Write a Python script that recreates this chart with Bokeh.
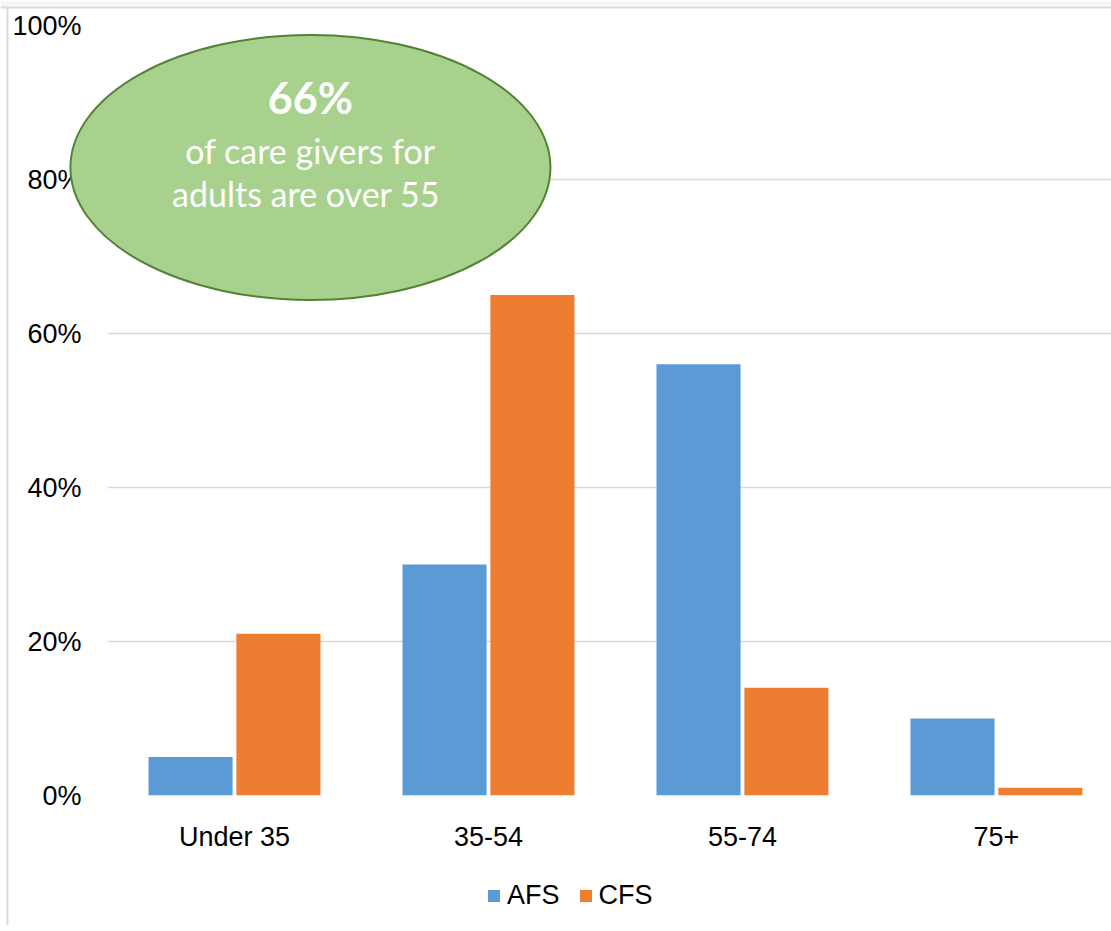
from bokeh.plotting import figure
from bokeh.models import (Range1d, FixedTicker, Legend, LegendItem, ColumnDataSource)
from bokeh.transform import dodge
from bokeh.layouts import column
from bokeh.core.properties import value
from bokeh.embed import file_html
from bokeh.resources import INLINE

# Age groups of carers and share of each survey in each group (%)
categories = ["Under 35", "35-54", "55-74", "75+"]
afs = [5, 30, 56, 10]
cfs = [21, 65, 14, 1]
y_ticks = [0, 20, 40, 60, 80, 100]

callout_value = "66%"
callout_lines = ["of care givers for", "adults are  over 55"]

AFS_COLOR = "#5b9bd5"
CFS_COLOR = "#ed7d31"
GRID = "#d9d9d9"
FONT = "Liberation Sans"

W, H = 1111, 925
LEFT, TOP, BOTTOM = 107, 25, 130          # frame margins in px
X_END = 3.953                             # visible category span
PX_X = (W - LEFT) / X_END                 # px per category unit
PX_Y = (H - TOP - BOTTOM) / 100.0         # px per percent

pos = [i + 0.5 for i in range(len(categories))]
source = ColumnDataSource(dict(x=pos, afs=afs, cfs=cfs))

p = figure(width=W, height=H,
           x_range=Range1d(0, X_END), y_range=Range1d(0, 100),
           output_backend="svg", toolbar_location=None,
           min_border_left=LEFT, min_border_right=0,
           min_border_top=TOP, min_border_bottom=BOTTOM)
p.frame_align = False
p.outline_line_color = None
p.background_fill_color = "white"
p.border_fill_color = "white"

bar_w = 0.331
afs_x = dodge("x", -0.173)
cfs_x = dodge("x", 0.173)
p.vbar(x=afs_x, top="afs", width=bar_w, source=source,
       fill_color=AFS_COLOR, line_color=None)
p.vbar(x=cfs_x, top="cfs", width=bar_w, source=source,
       fill_color=CFS_COLOR, line_color=None)

# axes
p.xaxis.ticker = FixedTicker(ticks=pos)
p.xaxis.major_label_overrides = {x: c for x, c in zip(pos, categories)}
p.yaxis.ticker = FixedTicker(ticks=y_ticks)
p.yaxis.major_label_overrides = {t: f"{t}%" for t in y_ticks}
for ax in (p.xaxis, p.yaxis):
    ax.axis_line_color = None
    ax.major_tick_line_color = None
    ax.minor_tick_line_color = None
    ax.major_label_text_font = FONT
    ax.major_label_text_font_size = "27px"
    ax.major_label_text_color = "#000000"
p.xaxis.major_label_standoff = 20
p.yaxis.major_label_standoff = 20

p.xgrid.grid_line_color = None
p.ygrid.grid_line_color = GRID
p.ygrid.grid_line_width = 1.5

# transparent top layer with the same data mapping: callout bubble and legend
ov = figure(width=W, height=H,
            x_range=Range1d(-LEFT / PX_X, X_END),
            y_range=Range1d(-BOTTOM / PX_Y, 100 + TOP / PX_Y),
            output_backend="svg", toolbar_location=None,
            x_axis_location=None, y_axis_location=None,
            min_border=0, min_border_left=0, min_border_right=0,
            min_border_top=0, min_border_bottom=0,
            styles={"position": "absolute", "left": "0px", "top": "0px"})
ov.frame_align = False
ov.grid.visible = False
ov.outline_line_color = None
ov.background_fill_alpha = 0
ov.border_fill_alpha = 0

# legend keys share the bar styling; hidden on this layer
k_afs = ov.vbar(x=afs_x, top="afs", width=bar_w, source=source,
                fill_color=AFS_COLOR, line_color=None, visible=False)
k_cfs = ov.vbar(x=cfs_x, top="cfs", width=bar_w, source=source,
                fill_color=CFS_COLOR, line_color=None, visible=False)

cx, cy = 0.799, 81.56
ov.ellipse(x=cx, y=cy, width=2 * 0.945, height=2 * 17.21,
           fill_color="#a9d18e", line_color="#548235", line_width=2)
ov.text(x=[cx], y=[90.65], text=[callout_value], text_align="center",
        text_baseline="middle", text_font=value("Lato"), text_font_style="bold",
        text_font_size="43px", text_color="white")
ov.text(x=[cx, cx], y=[83.77, 78.18], text=callout_lines, text_align="center",
        text_baseline="middle", text_font=value("Lato"),
        text_font_size="34px", text_color="white")

# slide frame edges
ov.quad(left=[-LEFT / PX_X], right=[X_END], top=[100 + TOP / PX_Y],
        bottom=[100 + (TOP - 6) / PX_Y], fill_color="#f6f7f1", line_color=None)
ov.segment(x0=[-LEFT / PX_X], x1=[X_END], y0=[100 + (TOP - 7) / PX_Y],
           y1=[100 + (TOP - 7) / PX_Y], line_color=GRID, line_width=2)
ov.segment(x0=[-(LEFT - 7) / PX_X], x1=[-(LEFT - 7) / PX_X],
           y0=[-BOTTOM / PX_Y], y1=[100 + (TOP - 7) / PX_Y],
           line_color=GRID, line_width=2)

legend = Legend(items=[LegendItem(label="AFS", renderers=[k_afs]),
                       LegendItem(label="CFS", renderers=[k_cfs])],
                orientation="horizontal", location=(486, 14),
                glyph_width=15, glyph_height=15, label_standoff=6, spacing=18,
                label_text_font=FONT, label_text_font_size="27px",
                label_text_color="black",
                padding=0, margin=0, border_line_color=None,
                background_fill_alpha=0)
ov.add_layout(legend)

layout = column(p, ov, styles={"position": "relative"})
open("out.html", "w").write(file_html(layout, INLINE))
